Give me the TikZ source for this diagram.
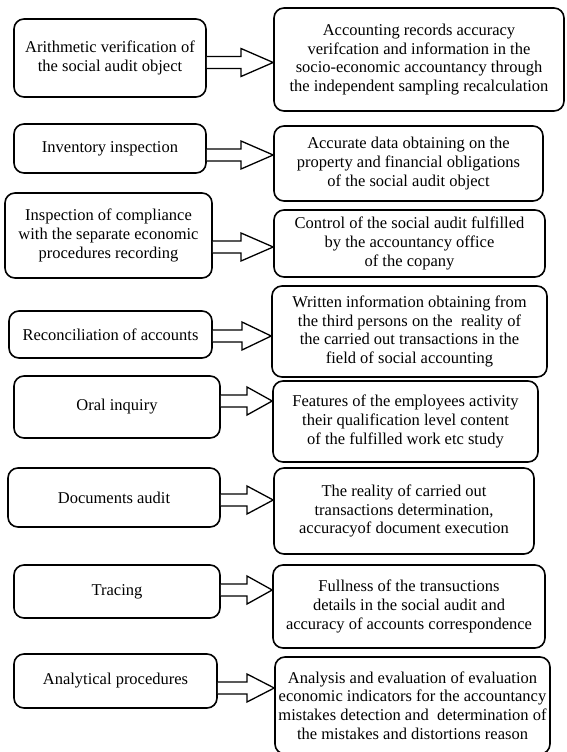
\documentclass[tikz,border=0pt]{standalone}
\usepackage{fontspec}
\setmainfont{Liberation Serif}
\usetikzlibrary{calc}
\tikzset{
  box/.style={draw, line width=1.6pt, rounded corners=10pt, inner sep=0pt, align=center,
              font=\fontsize{16.5}{18.6}\selectfont},
  arr/.style={draw, line width=1.3pt, line join=miter, fill=white}
}
\newcommand\fatarrow[5]{% left node, right node, y, head base x, half head
  \draw[arr] (#1.east |- 0,#3-6) -- (#4,#3-6) -- (#4,#3-#5) -- (#2.west |- 0,#3)
     -- (#4,#3+#5) -- (#4,#3+6) -- (#1.east |- 0,#3+6);}
\begin{document}
\begin{tikzpicture}[x=1pt,y=-1pt]
\useasboundingbox (0,0) rectangle (566,752);
\clip (0,0) rectangle (566,752);
% left boxes
\node[box, minimum width=192pt, minimum height=78pt] (l1) at (110,58) {Arithmetic verification of\\the social audit object};
\node[box, minimum width=192pt, minimum height=49pt] (l2) at (110,148.5) {Inventory inspection};
\node[box, minimum width=207pt, minimum height=85pt] (l3) at (108.5,235.5) {Inspection of compliance\\with the separate economic\\procedures recording};
\node[box, minimum width=203pt, minimum height=47pt] (l4) at (110.5,334.5) {Reconciliation of accounts};
\node[box, minimum width=206pt, minimum height=62pt] (l5) at (117,407) {Oral inquiry};
\node[box, minimum width=212pt, minimum height=59pt] (l6) at (114,497.5) {Documents audit};
\node[box, minimum width=206pt, minimum height=53pt] (l7) at (117,591.5) {Tracing};
\node[box, minimum width=203pt, minimum height=54pt] (l8) at (115.5,681) {Analytical procedures};
% right boxes
\node[box, minimum width=290pt, minimum height=103pt] (r1) at (419,59.5) {Accounting records accuracy\\verifcation and information in the\\socio-economic accountancy through\\the independent sampling recalculation};
\node[box, minimum width=269pt, minimum height=75pt] (r2) at (408.5,163.5) {Accurate data obtaining on the\\property and financial obligations\\of the social audit object};
\node[box, minimum width=271pt, minimum height=67pt] (r3) at (409.5,243.5) {Control of the social audit fulfilled\\by the accountancy office\\of the copany};
\node[box, minimum width=275pt, minimum height=91pt] (r4) at (409.5,331.5) {Written information obtaining from\\the third persons on the\ \ reality of\\the carried out transactions in the\\field of social accounting};
\node[box, minimum width=265pt, minimum height=81pt] (r5) at (405.5,421.5) {Features of the employees activity\\their qualification level content\\of the fulfilled work etc study};
\node[box, minimum width=260pt, minimum height=86pt] (r6) at (404,511) {The reality of carried out\\transactions determination,\\accuracyof document execution};
\node[box, minimum width=272pt, minimum height=83pt] (r7) at (409,606.5) {Fullness of the transuctions\\details in the social audit and\\accuracy of accounts correspondence};
\node[box, minimum width=275pt, minimum height=97pt] (r8) at (412.5,705.5) {Analysis and evaluation of evaluation\\economic indicators for the accountancy\\mistakes detection and\ \ determination of\\the mistakes and distortions reason};
% arrows
\fatarrow{l1}{r1}{62.5}{241}{14}
\fatarrow{l2}{r2}{155}{241}{14}
\fatarrow{l3}{r3}{247}{241}{14}
\fatarrow{l4}{r4}{336}{242}{14}
\fatarrow{l5}{r5}{401}{247}{14}
\fatarrow{l6}{r6}{500}{247}{14}
\fatarrow{l7}{r7}{590}{247}{14}
\fatarrow{l8}{r8}{688}{247}{14}
\end{tikzpicture}
\end{document}
